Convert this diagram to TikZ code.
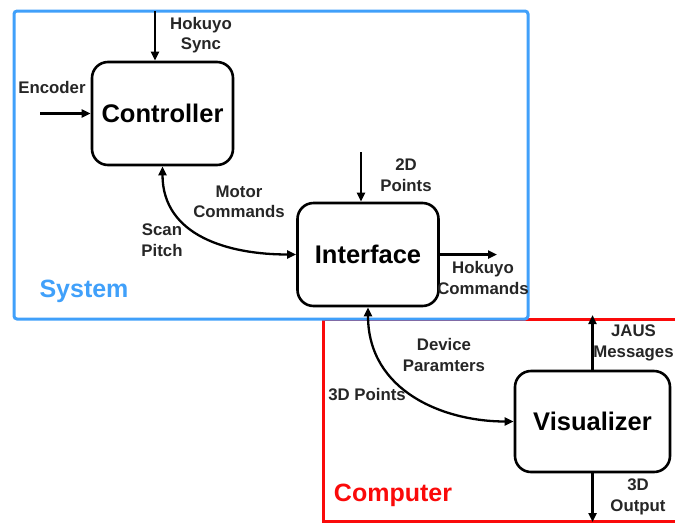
\documentclass[tikz,border=0pt]{standalone}
\usepackage{fontspec}
\setmainfont{Liberation Sans}
\usetikzlibrary{arrows.meta,calc}
\definecolor{sysblue}{RGB}{64,160,250}
\definecolor{comred}{RGB}{250,10,10}
\begin{document}
\begin{tikzpicture}[x=1pt,y=-1pt,
  block/.style={draw, line width=2.6pt, rounded corners=16pt, minimum width=141pt,
    minimum height=103pt, inner sep=0pt, font=\fontsize{25.5}{30}\selectfont\bfseries},
  flow/.style={line width=2.3pt, -{Triangle[length=9pt,width=8pt]}},
  twoway/.style={line width=2.3pt, {Triangle[length=9pt,width=8pt]}-{Triangle[length=9pt,width=8pt]}},
  lbl/.style={font=\fontsize{16.8}{20.5}\selectfont\bfseries, align=center, text=black!85, inner sep=0pt},
  group/.style={font=\fontsize{25}{30}\selectfont\bfseries, inner sep=0pt}
]
\clip (0,0) rectangle (675,523);

% enclosing frames: the computer (red) sits under the system (blue)
\draw[comred, line width=3pt] (690,319) -- (323,319) -- (323,521) -- (690,521);
\draw[sysblue, line width=3pt, rounded corners=3pt] (14,11) rectangle (528,319);
\node[group, text=sysblue] (syslabel) at (84,291) {System};
\node[group, text=comred] (comlabel) at (393,495) {Computer};

% processing blocks
\node[block] (ctrl)  at (162.5,113.5) {Controller};
\node[block] (iface) at (368,254.5)   {Interface};
\node[block, minimum width=155pt, minimum height=101pt] (vis) at (592.5,421.5) {Visualizer};

% external inputs and outputs
\coordinate (syncin) at (155,11);
\coordinate (encin)  at (40,113.5);
\coordinate (ptsin)  at (361,152);
\coordinate (hokout) at (497,254.5);
\coordinate (jausout) at (592.5,315);
\coordinate (dispout) at (592.5,522);

\draw[flow] (syncin) -- (syncin |- ctrl.north);
\draw[flow] (encin) -- (ctrl.west);
\draw[flow] (ptsin) -- (ptsin |- iface.north);
\draw[flow] (iface.east) -- (hokout);
\draw[flow] (vis.north) -- (jausout);
\draw[flow] (vis.south) -- (dispout);

% two-way links between blocks
\draw[twoway] (ctrl.south) .. controls ($(ctrl.south)+(0,70)$) and ($(iface.west)+(-67,0)$) .. (iface.west);
\draw[twoway] (iface.south) .. controls ($(iface.south)+(0,84)$) and ($(vis.west)+(-70,0)$) .. (vis.west);

% signal labels
\node[lbl] (lsync) at (201,35) {Hokuyo\\Sync};
\node[lbl] (lenc)  at (52,87)  {Encoder};
\node[lbl] (lmot)  at (239,202) {Motor\\Commands};
\node[lbl] (lscan) at (162,240) {Scan\\Pitch};
\node[lbl] (lpts)  at (406,175) {2D\\Points};
\node[lbl] (lhok)  at (483,278) {Hokuyo\\Commands};
\node[lbl] (ldev)  at (444,355) {Device\\Paramters};
\node[lbl] (l3d)   at (367,394) {3D Points};
\node[lbl] (ljaus) at (633.5,343) {JAUS\\Messages};
\node[lbl] (lout)  at (638,497) {3D\\Output};
\end{tikzpicture}
\end{document}
